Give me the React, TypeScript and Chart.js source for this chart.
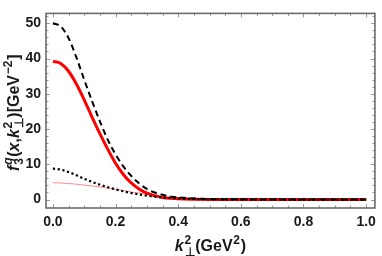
import React, { useEffect, useRef } from 'react';
import { Chart, registerables } from 'chart.js';

Chart.register(...registerables);

const kValues = [0, 0.025, 0.05, 0.075, 0.1, 0.125, 0.15, 0.175, 0.2, 0.225, 0.25, 0.275, 0.3, 0.325, 0.35, 0.375, 0.4, 0.45, 0.5, 0.6, 0.7, 0.8, 0.9, 1.0];
const redThick = [39.2, 38.6, 36.4, 32.8, 28.3, 23.4, 18.7, 14.3, 10.3, 7.1, 4.7, 3.0, 1.8, 1.1, 0.6, 0.35, 0.2, 0.08, 0.03, 0.01, 0, 0, 0, 0];
const blackDashed = [50, 49.1, 45.8, 40.3, 34.0, 27.9, 22.2, 17.0, 12.8, 9.4, 6.7, 4.6, 3.0, 2.0, 1.35, 0.9, 0.6, 0.3, 0.15, 0.05, 0.02, 0, 0, 0];
const blackDotted = [8.75, 8.5, 7.8, 6.9, 5.9, 5.0, 4.2, 3.5, 2.9, 2.35, 1.85, 1.45, 1.1, 0.8, 0.6, 0.45, 0.33, 0.18, 0.1, 0.03, 0.01, 0, 0, 0];
const redThin = [4.75, 4.7, 4.55, 4.35, 4.1, 3.85, 3.55, 3.25, 2.9, 2.55, 2.15, 1.8, 1.45, 1.1, 0.8, 0.55, 0.38, 0.18, 0.08, 0.02, 0, 0, 0, 0];

const xTickValues = [0, 0.2, 0.4, 0.6, 0.8, 1.0];
const yTickValues = [0, 10, 20, 30, 40, 50];
const xMinorStep = 0.05;
const yMinorStep = 2;

const FAMILY = '"Liberation Sans", Arial, sans-serif';

type Seg = { t?: string; it?: boolean; sup?: string; sub?: string; supIt?: boolean; subIt?: boolean };

const yTitle: Seg[] = [
  { t: 'f', it: true },
  { sup: 'q', sub: '3', supIt: true },
  { t: '(' },
  { t: 'x', it: true },
  { t: ',' },
  { t: 'k', it: true },
  { sub: '\u22A5', sup: '2' },
  { t: ')[GeV' },
  { sup: '\u22122' },
  { t: ']' },
];

const xTitle: Seg[] = [
  { t: 'k', it: true },
  { sub: '\u22A5', sup: '2' },
  { t: '(GeV' },
  { sup: '2' },
  { t: ')' },
];

function drawRich(ctx: CanvasRenderingContext2D, segs: Seg[], size: number, x0: number, y0: number, rotate: boolean, color: string) {
  const small = Math.round(size * 0.72);
  const fMain = (it?: boolean) => `${it ? 'italic ' : ''}bold ${size}px ${FAMILY}`;
  const fSmall = (it?: boolean) => `${it ? 'italic ' : ''}bold ${small}px ${FAMILY}`;
  const widths = segs.map((s) => {
    if (s.t !== undefined) {
      ctx.font = fMain(s.it);
      return ctx.measureText(s.t).width;
    }
    let w = 0;
    if (s.sup) { ctx.font = fSmall(s.supIt); w = Math.max(w, ctx.measureText(s.sup).width); }
    if (s.sub) { ctx.font = fSmall(s.subIt); w = Math.max(w, ctx.measureText(s.sub).width); }
    return w + 1.5;
  });
  const total = widths.reduce((a, b) => a + b, 0);
  ctx.save();
  ctx.translate(x0, y0);
  if (rotate) ctx.rotate(-Math.PI / 2);
  ctx.fillStyle = color;
  ctx.textBaseline = 'alphabetic';
  ctx.textAlign = 'left';
  let x = -total / 2;
  segs.forEach((s, i) => {
    if (s.t !== undefined) {
      ctx.font = fMain(s.it);
      ctx.fillText(s.t, x, 0);
    } else {
      if (s.sup) { ctx.font = fSmall(s.supIt); ctx.fillText(s.sup, x + 0.8, -size * 0.42); }
      if (s.sub) { ctx.font = fSmall(s.subIt); ctx.fillText(s.sub, x + 0.8, size * 0.3); }
    }
    x += widths[i];
  });
  ctx.restore();
}

const framePlugin = {
  id: 'framePlugin',
  afterDraw(chart: any) {
    const { ctx, chartArea } = chart;
    const xs = chart.scales.x;
    const ys = chart.scales.y;
    const { left, right, top, bottom } = chartArea;
    ctx.save();
    ctx.strokeStyle = '#9a9a9a';
    ctx.lineWidth = 1;
    ctx.beginPath();
    for (let i = 0; i * xMinorStep <= 1.0001; i++) {
      const v = i * xMinorStep;
      const px = Math.round(xs.getPixelForValue(v)) + 0.5;
      const major = xTickValues.some((t) => Math.abs(t - v) < 1e-6);
      const len = major ? 4 : 2.5;
      ctx.moveTo(px, bottom); ctx.lineTo(px, bottom - len);
      ctx.moveTo(px, top); ctx.lineTo(px, top + len);
    }
    for (let v = 0; v <= 52; v += yMinorStep) {
      const py = Math.round(ys.getPixelForValue(v)) + 0.5;
      const major = yTickValues.includes(v);
      const len = major ? 4 : 2.5;
      ctx.moveTo(left, py); ctx.lineTo(left + len, py);
      ctx.moveTo(right, py); ctx.lineTo(right - len, py);
    }
    ctx.stroke();
    ctx.strokeStyle = '#6a6a6a';
    ctx.lineWidth = 1.6;
    ctx.strokeRect(left, top, right - left, bottom - top);
    ctx.restore();
    drawRich(ctx, yTitle, 16, 18.5, (top + bottom) / 2 + 2, true, '#1a1a1a');
    drawRich(ctx, xTitle, 16, (left + right) / 2, 251, false, '#1a1a1a');
  },
};

export default function App() {
  const ref = useRef<HTMLCanvasElement>(null);
  useEffect(() => {
    if (!ref.current) return;
    const mk = (vals: number[]) => kValues.map((k, i) => ({ x: k, y: vals[i] }));
    const chart = new Chart(ref.current, {
      type: 'line',
      data: {
        datasets: [
          { label: 'dotted', data: mk(blackDotted), borderColor: '#000', borderWidth: 2.2, borderDash: [2.2, 2.6], pointRadius: 0, cubicInterpolationMode: 'monotone', fill: false },
          { label: 'dashed', data: mk(blackDashed), borderColor: '#000', borderWidth: 2, borderDash: [6, 4], pointRadius: 0, cubicInterpolationMode: 'monotone', fill: false },
          { label: 'red', data: mk(redThick), borderColor: '#ff0000', borderWidth: 3, pointRadius: 0, cubicInterpolationMode: 'monotone', fill: false },
          { label: 'redThin', data: mk(redThin), borderColor: '#ff8a8a', borderWidth: 1, pointRadius: 0, cubicInterpolationMode: 'monotone', fill: false },
        ],
      },
      options: {
        responsive: false,
        animation: false,
        layout: { padding: { top: 4, right: 5, left: 0, bottom: 0 } },
        plugins: { legend: { display: false }, tooltip: { enabled: false } },
        scales: {
          x: {
            type: 'linear',
            min: -0.022,
            max: 1.028,
            grid: { display: false, drawTicks: false },
            border: { display: false },
            ticks: {
              autoSkip: false,
              maxRotation: 0,
              padding: 6,
              color: '#1a1a1a',
              font: { family: FAMILY, size: 14, weight: 'bold' },
              callback: (v: any) => Number(v).toFixed(1),
            },
            afterBuildTicks: (s: any) => { s.ticks = xTickValues.map((v) => ({ value: v })); },
            afterFit: (s: any) => { s.height = 48; },
          },
          y: {
            type: 'linear',
            min: -2.4,
            max: 52.8,
            grid: { display: false, drawTicks: false },
            border: { display: false },
            ticks: {
              padding: 5,
              color: '#1a1a1a',
              font: { family: FAMILY, size: 14, weight: 'bold' },
              callback: (v: any) => String(v),
            },
            afterBuildTicks: (s: any) => { s.ticks = yTickValues.map((v) => ({ value: v })); },
            afterFit: (s: any) => { s.width = 46; },
          },
        },
      },
      plugins: [framePlugin],
    } as any);
    return () => chart.destroy();
  }, []);
  return (
    <div style={{ position: 'absolute', left: 0, top: 0, width: 382, height: 256 }}>
      <canvas ref={ref} width={382} height={256} style={{ display: 'block' }} />
    </div>
  );
}
